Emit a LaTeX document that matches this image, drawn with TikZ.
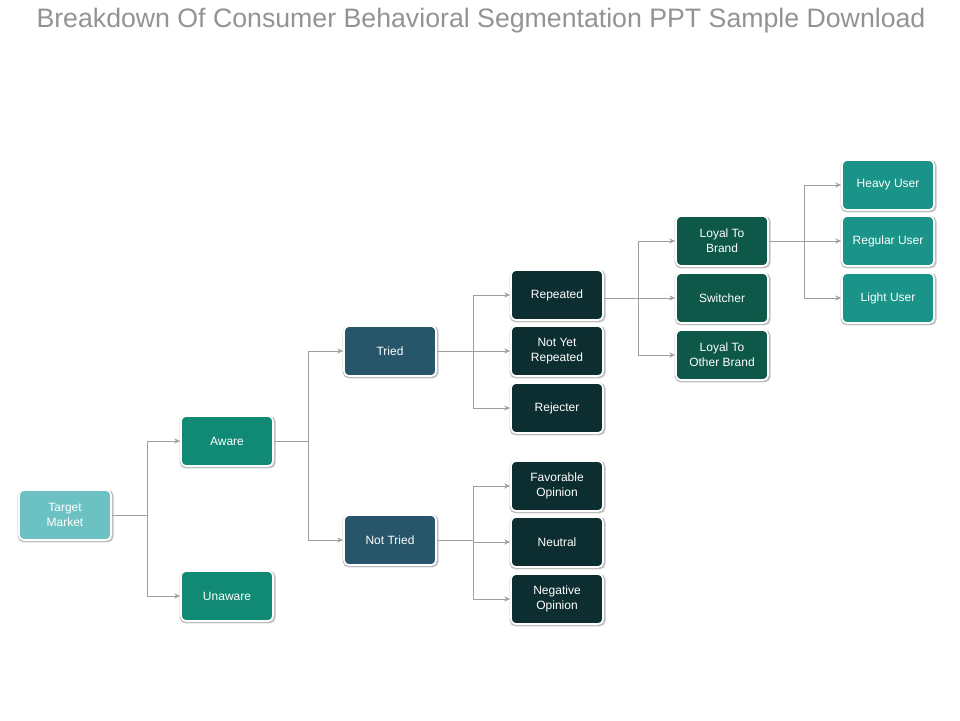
\documentclass[tikz,border=0pt]{standalone}
\usepackage{fontspec}
\setmainfont{Liberation Sans}
\usetikzlibrary{shadows,arrows.meta}
\definecolor{cTM}{HTML}{6CC2C2}
\definecolor{cAw}{HTML}{108A74}
\definecolor{cTr}{HTML}{27566A}
\definecolor{cRp}{HTML}{0D2E30}
\definecolor{cLy}{HTML}{0D5848}
\definecolor{cHv}{HTML}{1A9488}
\tikzset{
 box/.style={draw=white,line width=1.6pt,rounded corners=5pt,minimum width=92pt,minimum height=50pt,text=white,font=\fontsize{12}{15}\selectfont,align=center,
   general shadow={draw=gray!60,line width=1pt,fill=gray!60,shadow xshift=0.6pt,shadow yshift=-1pt,shadow scale=1.03,opacity=0.7}},
 conn/.style={draw=gray!75,line width=0.8pt},
 arr/.style={conn,-{Stealth[length=6pt,width=5pt]}}
}
\begin{document}
\begin{tikzpicture}[x=1pt,y=-1pt]
\useasboundingbox (0,0) rectangle (960,720);
\node[text=gray!85,font=\fontsize{26.7}{30}\selectfont] (title) at (481,21) {Breakdown Of Consumer Behavioral Segmentation PPT Sample Download};
\node[box,fill=cTM] (tm) at (65,515) {Target\\Market};
\node[box,fill=cAw] (aw) at (227,441) {Aware};
\node[box,fill=cAw] (un) at (227,596) {Unaware};
\node[box,fill=cTr] (tr) at (390,351) {Tried};
\node[box,fill=cTr] (nt) at (390,540) {Not Tried};
\node[box,fill=cRp] (rp) at (557,295) {Repeated};
\node[box,fill=cRp] (ny) at (557,351) {Not Yet\\Repeated};
\node[box,fill=cRp] (rj) at (557,408) {Rejecter};
\node[box,fill=cRp] (fo) at (557,486) {Favorable\\Opinion};
\node[box,fill=cRp] (ne) at (557,542) {Neutral};
\node[box,fill=cRp] (no) at (557,599) {Negative\\Opinion};
\node[box,fill=cLy] (lb) at (722,241) {Loyal To\\Brand};
\node[box,fill=cLy] (sw) at (722,298) {Switcher};
\node[box,fill=cLy] (lo) at (722,355) {Loyal To\\Other Brand};
\node[box,fill=cHv] (hu) at (888,185) {Heavy User};
\node[box,fill=cHv] (ru) at (888,241) {Regular User};
\node[box,fill=cHv] (lu) at (888,298) {Light User};
% connectors
\draw[conn] (tm.east) -- (147,515);
\draw[arr] (147,515) |- (aw.west);
\draw[arr] (147,515) |- (un.west);
\draw[conn] (aw.east) -- (308,441);
\draw[arr] (308,441) |- (tr.west);
\draw[arr] (308,441) |- (nt.west);
\draw[conn] (tr.east) -- (473,351);
\draw[arr] (473,351) |- (rp.west);
\draw[arr] (473,351) |- (ny.west);
\draw[arr] (473,351) |- (rj.west);
\draw[conn] (nt.east) -- (473,540);
\draw[arr] (473,540) |- (fo.west);
\draw[arr] (473,540) |- (ne.west);
\draw[arr] (473,540) |- (no.west);
\draw[conn] (rp.east) ++(0,3) -- (638,298);
\draw[arr] (638,298) |- (lb.west);
\draw[arr] (638,298) |- (sw.west);
\draw[arr] (638,298) |- (lo.west);
\draw[conn] (lb.east) -- (804,241);
\draw[arr] (804,241) |- (hu.west);
\draw[arr] (804,241) |- (ru.west);
\draw[arr] (804,241) |- (lu.west);
\end{tikzpicture}
\end{document}
